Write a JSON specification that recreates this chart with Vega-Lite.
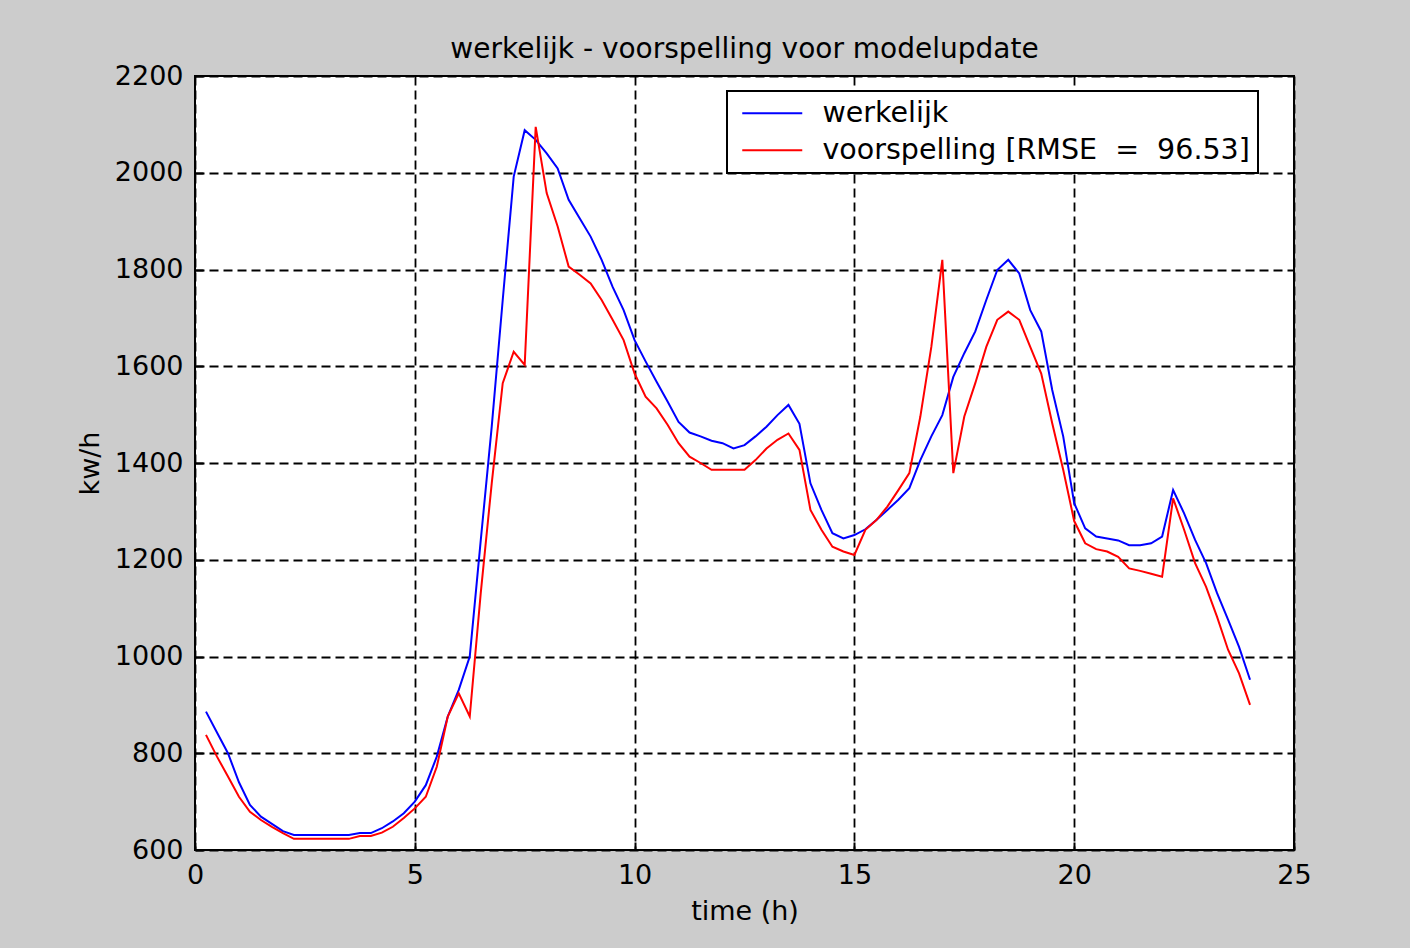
{
  "$schema": "https://vega.github.io/schema/vega-lite/v6.json",
  "autosize": "none",
  "width": 1099,
  "height": 774,
  "padding": {"left": 195, "top": 76, "right": 116, "bottom": 98},
  "background": "#cccccc",
  "title": {"text": "werkelijk - voorspelling voor modelupdate", "font": "DejaVu Sans", "fontSize": 28, "fontWeight": "normal", "color": "#000000", "offset": -2, "anchor": "middle"},
  "config": {
    "view": {"stroke": "#000000", "strokeWidth": 2, "fill": "#ffffff"},
    "axis": {
      "grid": true, "gridColor": "#000000", "gridDash": [9, 5], "gridWidth": 1.8, "gridOpacity": 1,
      "domain": false, "ticks": true, "tickSize": -8, "tickWidth": 2, "tickColor": "#000000",
      "labelFont": "DejaVu Sans", "labelFontSize": 27, "labelColor": "#000000",
      "labelFlush": false, "labelOverlap": false,
      "titleFont": "DejaVu Sans", "titleFontSize": 27, "titleFontWeight": "normal", "titleColor": "#000000"
    },
    "legend": {
      "orient": "none", "legendX": 532, "legendY": 15,
      "fillColor": "#ffffff", "strokeColor": "#000000", "strokeWidth": 2,
      "padding": 8, "symbolType": "M-3,0H3", "symbolSize": 400, "symbolStrokeWidth": 2, "symbolOffset": 23,
      "labelFont": "DejaVu Sans", "labelFontSize": 28.5, "labelColor": "#000000", "labelOffset": 36,
      "rowPadding": 8, "labelLimit": 700
    }
  },
  "data": {"values": [
    {"t": 0.25, "kw": 886, "s": "werkelijk"},
    {"t": 0.5, "kw": 843, "s": "werkelijk"},
    {"t": 0.75, "kw": 800, "s": "werkelijk"},
    {"t": 1, "kw": 740, "s": "werkelijk"},
    {"t": 1.25, "kw": 693, "s": "werkelijk"},
    {"t": 1.5, "kw": 669, "s": "werkelijk"},
    {"t": 1.75, "kw": 654, "s": "werkelijk"},
    {"t": 2, "kw": 639, "s": "werkelijk"},
    {"t": 2.25, "kw": 631, "s": "werkelijk"},
    {"t": 2.5, "kw": 631, "s": "werkelijk"},
    {"t": 2.75, "kw": 631, "s": "werkelijk"},
    {"t": 3, "kw": 631, "s": "werkelijk"},
    {"t": 3.25, "kw": 631, "s": "werkelijk"},
    {"t": 3.5, "kw": 631, "s": "werkelijk"},
    {"t": 3.75, "kw": 635, "s": "werkelijk"},
    {"t": 4, "kw": 635, "s": "werkelijk"},
    {"t": 4.25, "kw": 645, "s": "werkelijk"},
    {"t": 4.5, "kw": 659, "s": "werkelijk"},
    {"t": 4.75, "kw": 676, "s": "werkelijk"},
    {"t": 5, "kw": 700, "s": "werkelijk"},
    {"t": 5.25, "kw": 734, "s": "werkelijk"},
    {"t": 5.5, "kw": 793, "s": "werkelijk"},
    {"t": 5.75, "kw": 876, "s": "werkelijk"},
    {"t": 6, "kw": 931, "s": "werkelijk"},
    {"t": 6.25, "kw": 1000, "s": "werkelijk"},
    {"t": 6.5, "kw": 1240, "s": "werkelijk"},
    {"t": 6.75, "kw": 1475, "s": "werkelijk"},
    {"t": 7, "kw": 1737, "s": "werkelijk"},
    {"t": 7.25, "kw": 1992, "s": "werkelijk"},
    {"t": 7.5, "kw": 2088, "s": "werkelijk"},
    {"t": 7.75, "kw": 2068, "s": "werkelijk"},
    {"t": 8, "kw": 2040, "s": "werkelijk"},
    {"t": 8.25, "kw": 2009, "s": "werkelijk"},
    {"t": 8.5, "kw": 1944, "s": "werkelijk"},
    {"t": 8.75, "kw": 1906, "s": "werkelijk"},
    {"t": 9, "kw": 1868, "s": "werkelijk"},
    {"t": 9.25, "kw": 1820, "s": "werkelijk"},
    {"t": 9.5, "kw": 1764, "s": "werkelijk"},
    {"t": 9.75, "kw": 1716, "s": "werkelijk"},
    {"t": 10, "kw": 1654, "s": "werkelijk"},
    {"t": 10.25, "kw": 1610, "s": "werkelijk"},
    {"t": 10.5, "kw": 1568, "s": "werkelijk"},
    {"t": 10.75, "kw": 1527, "s": "werkelijk"},
    {"t": 11, "kw": 1485, "s": "werkelijk"},
    {"t": 11.25, "kw": 1463, "s": "werkelijk"},
    {"t": 11.5, "kw": 1455, "s": "werkelijk"},
    {"t": 11.75, "kw": 1446, "s": "werkelijk"},
    {"t": 12, "kw": 1441, "s": "werkelijk"},
    {"t": 12.25, "kw": 1430, "s": "werkelijk"},
    {"t": 12.5, "kw": 1437, "s": "werkelijk"},
    {"t": 12.75, "kw": 1455, "s": "werkelijk"},
    {"t": 13, "kw": 1475, "s": "werkelijk"},
    {"t": 13.25, "kw": 1499, "s": "werkelijk"},
    {"t": 13.5, "kw": 1520, "s": "werkelijk"},
    {"t": 13.75, "kw": 1481, "s": "werkelijk"},
    {"t": 14, "kw": 1358, "s": "werkelijk"},
    {"t": 14.25, "kw": 1303, "s": "werkelijk"},
    {"t": 14.5, "kw": 1255, "s": "werkelijk"},
    {"t": 14.75, "kw": 1244, "s": "werkelijk"},
    {"t": 15, "kw": 1251, "s": "werkelijk"},
    {"t": 15.25, "kw": 1263, "s": "werkelijk"},
    {"t": 15.5, "kw": 1282, "s": "werkelijk"},
    {"t": 15.75, "kw": 1303, "s": "werkelijk"},
    {"t": 16, "kw": 1324, "s": "werkelijk"},
    {"t": 16.25, "kw": 1348, "s": "werkelijk"},
    {"t": 16.5, "kw": 1406, "s": "werkelijk"},
    {"t": 16.75, "kw": 1455, "s": "werkelijk"},
    {"t": 17, "kw": 1499, "s": "werkelijk"},
    {"t": 17.25, "kw": 1578, "s": "werkelijk"},
    {"t": 17.5, "kw": 1627, "s": "werkelijk"},
    {"t": 17.75, "kw": 1672, "s": "werkelijk"},
    {"t": 18, "kw": 1737, "s": "werkelijk"},
    {"t": 18.25, "kw": 1799, "s": "werkelijk"},
    {"t": 18.5, "kw": 1820, "s": "werkelijk"},
    {"t": 18.75, "kw": 1792, "s": "werkelijk"},
    {"t": 19, "kw": 1716, "s": "werkelijk"},
    {"t": 19.25, "kw": 1672, "s": "werkelijk"},
    {"t": 19.5, "kw": 1551, "s": "werkelijk"},
    {"t": 19.75, "kw": 1455, "s": "werkelijk"},
    {"t": 20, "kw": 1317, "s": "werkelijk"},
    {"t": 20.25, "kw": 1265, "s": "werkelijk"},
    {"t": 20.5, "kw": 1248, "s": "werkelijk"},
    {"t": 20.75, "kw": 1244, "s": "werkelijk"},
    {"t": 21, "kw": 1240, "s": "werkelijk"},
    {"t": 21.25, "kw": 1230, "s": "werkelijk"},
    {"t": 21.5, "kw": 1230, "s": "werkelijk"},
    {"t": 21.75, "kw": 1234, "s": "werkelijk"},
    {"t": 22, "kw": 1248, "s": "werkelijk"},
    {"t": 22.25, "kw": 1344, "s": "werkelijk"},
    {"t": 22.5, "kw": 1296, "s": "werkelijk"},
    {"t": 22.75, "kw": 1241, "s": "werkelijk"},
    {"t": 23, "kw": 1193, "s": "werkelijk"},
    {"t": 23.25, "kw": 1131, "s": "werkelijk"},
    {"t": 23.5, "kw": 1076, "s": "werkelijk"},
    {"t": 23.75, "kw": 1020, "s": "werkelijk"},
    {"t": 24, "kw": 952, "s": "werkelijk"},
    {"t": 0.25, "kw": 838, "s": "voorspelling [RMSE = 96.53]"},
    {"t": 0.5, "kw": 793, "s": "voorspelling [RMSE = 96.53]"},
    {"t": 0.75, "kw": 752, "s": "voorspelling [RMSE = 96.53]"},
    {"t": 1, "kw": 710, "s": "voorspelling [RMSE = 96.53]"},
    {"t": 1.25, "kw": 679, "s": "voorspelling [RMSE = 96.53]"},
    {"t": 1.5, "kw": 662, "s": "voorspelling [RMSE = 96.53]"},
    {"t": 1.75, "kw": 648, "s": "voorspelling [RMSE = 96.53]"},
    {"t": 2, "kw": 635, "s": "voorspelling [RMSE = 96.53]"},
    {"t": 2.25, "kw": 623, "s": "voorspelling [RMSE = 96.53]"},
    {"t": 2.5, "kw": 623, "s": "voorspelling [RMSE = 96.53]"},
    {"t": 2.75, "kw": 623, "s": "voorspelling [RMSE = 96.53]"},
    {"t": 3, "kw": 623, "s": "voorspelling [RMSE = 96.53]"},
    {"t": 3.25, "kw": 623, "s": "voorspelling [RMSE = 96.53]"},
    {"t": 3.5, "kw": 623, "s": "voorspelling [RMSE = 96.53]"},
    {"t": 3.75, "kw": 629, "s": "voorspelling [RMSE = 96.53]"},
    {"t": 4, "kw": 629, "s": "voorspelling [RMSE = 96.53]"},
    {"t": 4.25, "kw": 636, "s": "voorspelling [RMSE = 96.53]"},
    {"t": 4.5, "kw": 648, "s": "voorspelling [RMSE = 96.53]"},
    {"t": 4.75, "kw": 666, "s": "voorspelling [RMSE = 96.53]"},
    {"t": 5, "kw": 686, "s": "voorspelling [RMSE = 96.53]"},
    {"t": 5.25, "kw": 710, "s": "voorspelling [RMSE = 96.53]"},
    {"t": 5.5, "kw": 772, "s": "voorspelling [RMSE = 96.53]"},
    {"t": 5.75, "kw": 876, "s": "voorspelling [RMSE = 96.53]"},
    {"t": 6, "kw": 924, "s": "voorspelling [RMSE = 96.53]"},
    {"t": 6.25, "kw": 876, "s": "voorspelling [RMSE = 96.53]"},
    {"t": 6.5, "kw": 1131, "s": "voorspelling [RMSE = 96.53]"},
    {"t": 6.75, "kw": 1358, "s": "voorspelling [RMSE = 96.53]"},
    {"t": 7, "kw": 1565, "s": "voorspelling [RMSE = 96.53]"},
    {"t": 7.25, "kw": 1630, "s": "voorspelling [RMSE = 96.53]"},
    {"t": 7.5, "kw": 1603, "s": "voorspelling [RMSE = 96.53]"},
    {"t": 7.75, "kw": 2095, "s": "voorspelling [RMSE = 96.53]"},
    {"t": 8, "kw": 1958, "s": "voorspelling [RMSE = 96.53]"},
    {"t": 8.25, "kw": 1889, "s": "voorspelling [RMSE = 96.53]"},
    {"t": 8.5, "kw": 1806, "s": "voorspelling [RMSE = 96.53]"},
    {"t": 8.75, "kw": 1789, "s": "voorspelling [RMSE = 96.53]"},
    {"t": 9, "kw": 1771, "s": "voorspelling [RMSE = 96.53]"},
    {"t": 9.25, "kw": 1737, "s": "voorspelling [RMSE = 96.53]"},
    {"t": 9.5, "kw": 1696, "s": "voorspelling [RMSE = 96.53]"},
    {"t": 9.75, "kw": 1654, "s": "voorspelling [RMSE = 96.53]"},
    {"t": 10, "kw": 1585, "s": "voorspelling [RMSE = 96.53]"},
    {"t": 10.25, "kw": 1537, "s": "voorspelling [RMSE = 96.53]"},
    {"t": 10.5, "kw": 1513, "s": "voorspelling [RMSE = 96.53]"},
    {"t": 10.75, "kw": 1479, "s": "voorspelling [RMSE = 96.53]"},
    {"t": 11, "kw": 1441, "s": "voorspelling [RMSE = 96.53]"},
    {"t": 11.25, "kw": 1413, "s": "voorspelling [RMSE = 96.53]"},
    {"t": 11.5, "kw": 1400, "s": "voorspelling [RMSE = 96.53]"},
    {"t": 11.75, "kw": 1386, "s": "voorspelling [RMSE = 96.53]"},
    {"t": 12, "kw": 1386, "s": "voorspelling [RMSE = 96.53]"},
    {"t": 12.25, "kw": 1386, "s": "voorspelling [RMSE = 96.53]"},
    {"t": 12.5, "kw": 1386, "s": "voorspelling [RMSE = 96.53]"},
    {"t": 12.75, "kw": 1406, "s": "voorspelling [RMSE = 96.53]"},
    {"t": 13, "kw": 1430, "s": "voorspelling [RMSE = 96.53]"},
    {"t": 13.25, "kw": 1448, "s": "voorspelling [RMSE = 96.53]"},
    {"t": 13.5, "kw": 1461, "s": "voorspelling [RMSE = 96.53]"},
    {"t": 13.75, "kw": 1427, "s": "voorspelling [RMSE = 96.53]"},
    {"t": 14, "kw": 1303, "s": "voorspelling [RMSE = 96.53]"},
    {"t": 14.25, "kw": 1262, "s": "voorspelling [RMSE = 96.53]"},
    {"t": 14.5, "kw": 1227, "s": "voorspelling [RMSE = 96.53]"},
    {"t": 14.75, "kw": 1217, "s": "voorspelling [RMSE = 96.53]"},
    {"t": 15, "kw": 1210, "s": "voorspelling [RMSE = 96.53]"},
    {"t": 15.25, "kw": 1262, "s": "voorspelling [RMSE = 96.53]"},
    {"t": 15.5, "kw": 1282, "s": "voorspelling [RMSE = 96.53]"},
    {"t": 15.75, "kw": 1310, "s": "voorspelling [RMSE = 96.53]"},
    {"t": 16, "kw": 1344, "s": "voorspelling [RMSE = 96.53]"},
    {"t": 16.25, "kw": 1379, "s": "voorspelling [RMSE = 96.53]"},
    {"t": 16.5, "kw": 1496, "s": "voorspelling [RMSE = 96.53]"},
    {"t": 16.75, "kw": 1640, "s": "voorspelling [RMSE = 96.53]"},
    {"t": 17, "kw": 1820, "s": "voorspelling [RMSE = 96.53]"},
    {"t": 17.25, "kw": 1379, "s": "voorspelling [RMSE = 96.53]"},
    {"t": 17.5, "kw": 1496, "s": "voorspelling [RMSE = 96.53]"},
    {"t": 17.75, "kw": 1565, "s": "voorspelling [RMSE = 96.53]"},
    {"t": 18, "kw": 1640, "s": "voorspelling [RMSE = 96.53]"},
    {"t": 18.25, "kw": 1696, "s": "voorspelling [RMSE = 96.53]"},
    {"t": 18.5, "kw": 1713, "s": "voorspelling [RMSE = 96.53]"},
    {"t": 18.75, "kw": 1696, "s": "voorspelling [RMSE = 96.53]"},
    {"t": 19, "kw": 1640, "s": "voorspelling [RMSE = 96.53]"},
    {"t": 19.25, "kw": 1585, "s": "voorspelling [RMSE = 96.53]"},
    {"t": 19.5, "kw": 1482, "s": "voorspelling [RMSE = 96.53]"},
    {"t": 19.75, "kw": 1386, "s": "voorspelling [RMSE = 96.53]"},
    {"t": 20, "kw": 1280, "s": "voorspelling [RMSE = 96.53]"},
    {"t": 20.25, "kw": 1234, "s": "voorspelling [RMSE = 96.53]"},
    {"t": 20.5, "kw": 1222, "s": "voorspelling [RMSE = 96.53]"},
    {"t": 20.75, "kw": 1217, "s": "voorspelling [RMSE = 96.53]"},
    {"t": 21, "kw": 1206, "s": "voorspelling [RMSE = 96.53]"},
    {"t": 21.25, "kw": 1182, "s": "voorspelling [RMSE = 96.53]"},
    {"t": 21.5, "kw": 1177, "s": "voorspelling [RMSE = 96.53]"},
    {"t": 21.75, "kw": 1171, "s": "voorspelling [RMSE = 96.53]"},
    {"t": 22, "kw": 1165, "s": "voorspelling [RMSE = 96.53]"},
    {"t": 22.25, "kw": 1327, "s": "voorspelling [RMSE = 96.53]"},
    {"t": 22.5, "kw": 1262, "s": "voorspelling [RMSE = 96.53]"},
    {"t": 22.75, "kw": 1193, "s": "voorspelling [RMSE = 96.53]"},
    {"t": 23, "kw": 1144, "s": "voorspelling [RMSE = 96.53]"},
    {"t": 23.25, "kw": 1082, "s": "voorspelling [RMSE = 96.53]"},
    {"t": 23.5, "kw": 1014, "s": "voorspelling [RMSE = 96.53]"},
    {"t": 23.75, "kw": 965, "s": "voorspelling [RMSE = 96.53]"},
    {"t": 24, "kw": 900, "s": "voorspelling [RMSE = 96.53]"}
  ]},
  "mark": {"type": "line", "strokeWidth": 2, "clip": true},
  "encoding": {
    "x": {"field": "t", "type": "quantitative", "title": "time (h)",
      "scale": {"domain": [0, 25], "nice": false, "zero": false},
      "axis": {"values": [0, 5, 10, 15, 20, 25], "labelPadding": 20, "titlePadding": 10}},
    "y": {"field": "kw", "type": "quantitative", "title": "kw/h",
      "scale": {"domain": [600, 2200], "nice": false, "zero": false},
      "axis": {"values": [600, 800, 1000, 1200, 1400, 1600, 1800, 2000, 2200], "format": "d", "labelPadding": 20, "titlePadding": 10}},
    "color": {"field": "s", "type": "nominal", "title": null,
      "scale": {"domain": ["werkelijk", "voorspelling [RMSE = 96.53]"], "range": ["#0000ff", "#ff0000"]},
      "legend": {"labelExpr": "replace(datum.label, ' = ', '\u00a0\u00a0=\u00a0\u00a0')"}},
    "order": {"field": "t", "type": "quantitative"}
  }
}
